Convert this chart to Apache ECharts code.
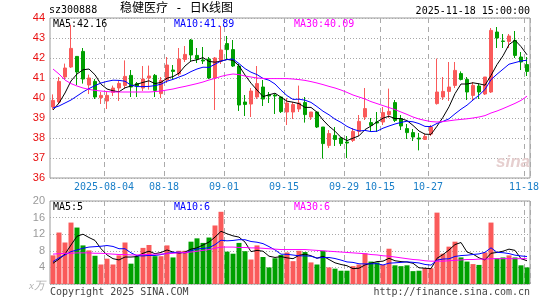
<!DOCTYPE html>
<html><head><meta charset="utf-8">
<script src="https://cdn.jsdelivr.net/npm/echarts@6/dist/echarts.min.js"></script>
<style>html,body{margin:0;padding:0;background:#fff}#c{width:545px;height:300px}</style>
</head><body><div id="c"></div>
<script>
const dates = ['2025-07-22','2025-07-23','2025-07-24','2025-07-25','2025-07-28','2025-07-29','2025-07-30','2025-07-31','2025-08-01',
'2025-08-04','2025-08-05','2025-08-06','2025-08-07','2025-08-08','2025-08-11','2025-08-12','2025-08-13','2025-08-14','2025-08-15',
'2025-08-18','2025-08-19','2025-08-20','2025-08-21','2025-08-22','2025-08-25','2025-08-26','2025-08-27','2025-08-28','2025-08-29',
'2025-09-01','2025-09-02','2025-09-03','2025-09-04','2025-09-05','2025-09-08','2025-09-09','2025-09-10','2025-09-11','2025-09-12',
'2025-09-15','2025-09-16','2025-09-17','2025-09-18','2025-09-19','2025-09-22','2025-09-23','2025-09-24','2025-09-25','2025-09-26',
'2025-09-29','2025-09-30','2025-10-09','2025-10-10','2025-10-13','2025-10-14','2025-10-15','2025-10-16','2025-10-17',
'2025-10-20','2025-10-21','2025-10-22','2025-10-23','2025-10-24','2025-10-27','2025-10-28','2025-10-29','2025-10-30','2025-10-31',
'2025-11-03','2025-11-04','2025-11-05','2025-11-06','2025-11-07','2025-11-10','2025-11-11','2025-11-12','2025-11-13','2025-11-14',
'2025-11-17','2025-11-18'];
const tickDates = ['2025-08-04','2025-08-18','2025-09-01','2025-09-15','2025-09-29','2025-10-15','2025-10-27','2025-11-18'];
const tickLabels = ['2025-08-04','08-18','09-01','09-15','09-29','10-15','10-27','11-18'];

const opens = [39.55,39.80,41.05,41.55,42.08,42.33,40.65,40.83,40.02,39.85, 40.28,40.50,40.63,41.13,40.72,40.50,41.00,41.13,40.22,40.90,
41.40,41.20,41.93,42.90,42.13,41.90,41.95,41.00,41.85,42.72, 42.42,41.60,39.80,39.70,40.05,40.55,40.15,40.15,40.05,39.30,
39.30,39.45,39.77,39.05,39.30,38.55,37.63,38.13,38.00,37.80, 37.88,38.33,39.05,38.77,38.80,38.80,39.17,39.77,38.97,38.47,
38.27,38.00,37.93,38.20,39.72,40.05,40.33,40.63,41.22,40.93, 40.13,40.60,40.20,40.30,43.30,42.85,42.83,42.88,42.05,41.67];
const closes = [39.88,40.83,41.50,42.48,41.30,40.95,41.00,40.05,40.13,40.13, 40.50,40.73,41.08,40.55,40.60,40.95,41.10,40.38,40.88,41.65,
41.33,41.95,42.18,42.15,41.95,41.85,41.00,42.00,42.40,42.42, 41.60,39.65,39.68,40.35,40.72,39.95,40.10,40.10,39.32,39.75,
39.67,39.75,39.17,39.30,38.55,37.72,38.22,37.93,37.72,37.75, 38.33,38.83,39.47,38.63,38.75,39.27,39.33,38.88,38.60,38.27,
38.05,37.95,38.08,38.55,40.30,40.33,40.55,41.38,40.93,40.30, 40.63,40.30,41.05,43.38,43.00,42.83,43.10,42.13,41.80,41.33];
const lows = [39.42,39.72,40.90,41.50,40.65,40.72,40.20,39.95,39.70,39.45, 40.10,39.85,40.45,40.05,40.05,40.35,40.42,40.05,40.00,40.75,
40.90,41.10,41.80,41.85,41.75,41.70,40.95,39.40,41.70,41.90, 41.55,39.35,39.10,39.05,39.95,39.60,39.75,39.20,39.25,38.65,
38.95,39.30,38.77,38.90,38.50,36.97,37.50,37.60,37.60,37.00, 37.80,38.10,38.90,38.30,38.30,38.65,39.00,38.80,38.40,37.95,
37.85,37.38,37.90,38.10,39.67,39.90,39.85,40.50,40.88,39.90, 39.88,39.95,40.15,40.25,42.50,42.50,42.50,42.00,41.40,41.10];
const highs = [40.18,41.05,41.72,43.65,42.10,42.50,41.17,40.95,40.30,40.30, 40.62,40.88,41.88,41.40,40.80,41.60,41.62,41.20,41.05,42.05,
41.65,42.50,42.60,42.95,42.50,42.55,42.05,42.05,43.60,43.10, 42.90,41.70,40.15,40.50,41.60,40.90,40.30,40.20,40.05,40.00,
39.80,40.62,40.05,39.30,39.30,38.55,38.40,38.55,38.05,38.10, 38.50,39.15,40.50,39.00,39.30,39.55,40.47,39.90,39.15,38.70,
38.45,38.25,38.22,38.65,41.97,41.05,41.80,41.80,41.33,41.05, 40.80,40.72,41.05,43.50,43.55,43.20,43.20,43.35,42.30,42.05];

const ma5 = [39.40,39.75,40.25,40.85,41.20,41.41,41.45,41.16,40.69,40.45, 40.36,40.31,40.51,40.60,40.69,40.78,40.86,40.72,40.78,40.99,
41.07,41.24,41.60,41.85,41.91,42.02,41.83,41.79,41.84,41.93, 41.88,41.61,41.15,40.74,40.40,40.07,40.16,40.24,40.04,39.84,
39.79,39.72,39.53,39.53,39.29,38.90,38.59,38.34,38.03,37.87, 37.99,38.11,38.42,38.60,38.80,38.99,39.09,38.97,38.97,38.87,
38.63,38.35,38.19,38.18,38.59,39.04,39.56,40.22,40.70,40.70, 40.76,40.71,40.64,41.13,41.67,42.11,42.67,42.89,42.57,42.16];
const ma10 = [39.50,39.60,39.75,39.90,40.10,40.30,40.47,40.62,40.75,40.83, 40.89,40.88,40.84,40.64,40.57,40.57,40.58,40.62,40.69,40.84,
40.93,41.05,41.16,41.32,41.45,41.54,41.53,41.69,41.85,41.92, 41.95,41.72,41.47,41.29,41.17,40.98,40.89,40.70,40.39,40.12,
39.93,39.94,39.89,39.78,39.57,39.34,39.16,38.94,38.78,38.58, 38.44,38.35,38.38,38.32,38.34,38.49,38.60,38.70,38.78,38.84,
38.81,38.72,38.58,38.57,38.73,38.83,38.96,39.21,39.44,39.64, 39.90,40.14,40.43,40.92,41.19,41.44,41.69,41.77,41.85,41.89];
const ma30 = [41.45,41.20,40.90,40.72,40.60,40.50,40.43,40.38,40.35,40.32, 40.30,40.30,40.30,40.30,40.30,40.30,40.30,40.32,40.35,40.40,
40.45,40.52,40.58,40.65,40.72,40.80,40.90,40.98,41.08,41.15, 41.20,41.17,41.10,41.05,41.00,40.98,40.97,40.97,40.97,40.97,
40.95,40.92,40.88,40.82,40.75,40.67,40.58,40.50,40.40,40.28, 40.15,40.05,39.95,39.82,39.72,39.62,39.52,39.42,39.30,39.18,
39.05,38.95,38.88,38.82,38.80,38.82,38.86,38.90,38.93,38.96, 39.00,39.05,39.12,39.25,39.35,39.47,39.60,39.73,39.88,40.09];

const volumes = [6.9,12.4,10.0,14.8,13.6,9.3,8.1,6.8,4.7,6.1, 4.7,6.9,10.0,4.9,6.7,8.7,9.4,6.7,6.7,9.3,
6.4,8.0,8.0,10.2,11.0,9.9,11.2,14.1,17.4,7.8, 7.3,9.9,7.9,5.9,9.3,6.5,4.0,6.2,7.0,7.6,
5.5,8.0,7.7,5.2,4.7,8.0,4.0,3.7,3.2,3.2, 4.3,4.7,7.4,5.4,5.2,4.6,8.5,4.5,4.3,4.5,
3.1,3.2,3.8,3.8,17.2,7.3,9.0,10.2,6.4,5.4, 4.8,4.6,7.6,14.8,6.2,6.4,6.9,6.4,4.5,4.0];
const vma5 = [5.0,6.0,7.2,9.4,11.5,12.0,11.2,10.5,8.5,7.0, 6.1,5.8,6.5,6.5,6.6,7.4,7.9,7.3,7.6,8.2,
7.7,7.4,7.7,8.4,8.7,9.4,10.1,11.3,12.7,12.1, 11.6,11.3,10.1,7.8,8.1,7.9,6.7,6.4,6.6,6.3,
6.1,6.9,7.2,6.8,6.2,6.7,5.9,5.1,4.7,4.4, 3.7,3.8,4.6,5.0,5.4,5.5,6.2,5.6,5.4,5.3,
5.0,3.9,3.8,3.7,6.2,7.1,8.2,9.5,10.0,7.7, 7.2,6.3,5.8,7.4,7.6,7.9,8.4,8.1,6.1,5.6];
const vma10 = [5.4,6.3,7.0,7.8,8.2,8.6,8.9,9.0,9.1,9.27, 9.05,8.5,8.5,7.51,6.82,6.76,6.89,6.88,7.08,7.4,
7.57,7.68,7.48,8.01,8.44,8.56,8.74,9.48,10.55,10.4, 10.49,10.68,10.67,10.24,10.07,9.73,9.01,8.22,7.18,7.16,
6.98,6.79,6.77,6.7,6.24,6.39,6.39,6.14,5.76,5.32, 5.2,4.87,4.84,4.86,4.91,4.57,5.02,5.1,5.21,5.34,
5.22,5.07,4.71,4.55,5.75,6.02,6.07,6.64,6.85,6.94, 7.11,7.25,7.63,8.73,7.63,7.54,7.33,6.95,6.76,6.62];
const vma30 = [7.2,7.3,7.4,7.4,7.5,7.5,7.5,7.4,7.4,7.3, 7.2,7.1,7.1,7.0,7.0,7.1,7.1,7.2,7.2,7.3,
7.4,7.5,7.6,7.7,7.9,8.1,8.3,8.6,8.9,8.9, 8.9,8.8,8.8,8.7,8.7,8.6,8.5,8.4,8.3,8.3,
8.3,8.3,8.3,8.2,8.1,8.0,7.9,7.8,7.7,7.6, 7.5,7.4,7.3,7.1,7.0,6.8,6.7,6.5,6.3,6.1,
5.9,5.8,5.6,5.5,5.5,5.5,5.6,5.7,5.8,5.9, 5.9,6.0,6.0,6.1,6.1,6.1,6.1,6.1,6.1,6.1];

const UP = '#fa5a5a', DOWN = '#00a000';
const MONO = '"DejaVu Sans Mono", monospace';
const candles = dates.map((d, i) => [opens[i], closes[i], lows[i], highs[i]]);
const volBars = volumes.map((v, i) => ({ value: v, itemStyle: { color: closes[i] >= opens[i] ? UP : DOWN } }));
const isTick = (idx, val) => tickDates.indexOf(val) >= 0;
const last = a => a[a.length - 1];

const chart = echarts.init(document.getElementById('c'), null, { renderer: 'canvas' });
const xBase = {
  type: 'category', data: dates, boundaryGap: true,
  axisLine: { show: false }, axisTick: { show: false },
  splitLine: { show: true, interval: isTick, lineStyle: { color: '#aaaaaa', type: [5, 4], width: 1 } }
};
chart.setOption({
  animation: false,
  backgroundColor: '#ffffff',
  grid: [
    { left: 50, top: 18, width: 480, height: 160, show: true, borderColor: '#9a9a9a', borderWidth: 1, backgroundColor: 'transparent' },
    { left: 50, top: 201, width: 480, height: 83, show: true, borderColor: '#9a9a9a', borderWidth: 1, backgroundColor: 'transparent' }
  ],
  xAxis: [
    Object.assign({}, xBase, { gridIndex: 0,
      axisLabel: { show: true, interval: isTick, margin: 4, color: '#1a7fc8', fontFamily: MONO, fontSize: 10,
        padding: [0, 6, 0, 0],
        formatter: (val) => tickLabels[tickDates.indexOf(val)] } }),
    Object.assign({}, xBase, { gridIndex: 1, axisLabel: { show: false } })
  ],
  yAxis: [
    { type: 'value', gridIndex: 0, min: 36, max: 44, interval: 1, scale: false,
      axisLine: { show: false }, axisTick: { show: false },
      axisLabel: { color: '#e81010', fontFamily: '"Liberation Sans", Arial', fontSize: 11, margin: 5 },
      splitLine: { show: true, lineStyle: { color: '#a8a8a8', type: [1, 2], width: 1 } } },
    { type: 'value', gridIndex: 1, min: 0, max: 20, interval: 4,
      axisLine: { show: false }, axisTick: { show: false },
      axisLabel: { color: '#999999', fontFamily: '"Liberation Sans", Arial', fontSize: 11, margin: 5,
        formatter: v => v === 0 ? '{u|x万}' : String(v),
        rich: { u: { fontStyle: 'italic', color: '#b0b0b0', fontSize: 11, fontFamily: '"Liberation Serif", serif', padding: [4, 0, 0, 0] } } },
      splitLine: { show: true, lineStyle: { color: '#a8a8a8', type: [1, 2], width: 1 } } }
  ],
  series: [
    { type: 'candlestick', xAxisIndex: 0, yAxisIndex: 0, data: candles, barWidth: 4,
      itemStyle: { color: UP, color0: DOWN, borderColor: UP, borderColor0: DOWN, borderWidth: 1 } },
    { type: 'line', xAxisIndex: 0, yAxisIndex: 0, data: ma5, symbol: 'none', silent: true, lineStyle: { color: '#000000', width: 1 }, z: 5 },
    { type: 'line', xAxisIndex: 0, yAxisIndex: 0, data: ma10, symbol: 'none', silent: true, lineStyle: { color: '#0000ff', width: 1 }, z: 5 },
    { type: 'line', xAxisIndex: 0, yAxisIndex: 0, data: ma30, symbol: 'none', silent: true, lineStyle: { color: '#ff00ff', width: 1 }, z: 5 },
    { type: 'bar', xAxisIndex: 1, yAxisIndex: 1, data: volBars, barWidth: 5 },
    { type: 'line', xAxisIndex: 1, yAxisIndex: 1, data: vma5, symbol: 'none', silent: true, lineStyle: { color: '#000000', width: 1 }, z: 5 },
    { type: 'line', xAxisIndex: 1, yAxisIndex: 1, data: vma10, symbol: 'none', silent: true, lineStyle: { color: '#0000ff', width: 1 }, z: 5 },
    { type: 'line', xAxisIndex: 1, yAxisIndex: 1, data: vma30, symbol: 'none', silent: true, lineStyle: { color: '#ff00ff', width: 1 }, z: 5 }
  ],
  graphic: [
    { type: 'text', left: 49, top: 5, style: { text: 'sz300888', fill: '#000', font: '10px ' + MONO } },
    { type: 'text', left: 120, top: 3, style: { text: '稳健医疗 - 日K线图', fill: '#000', font: '12px "DejaVu Sans Mono", "Noto Sans CJK SC"' } },
    { type: 'text', right: 15, top: 6, style: { text: '2025-11-18 15:00:00', fill: '#000', font: '10px ' + MONO } },
    { type: 'text', left: 53, top: 19, z: 10, style: { text: 'MA5:' + last(ma5).toFixed(2), fill: '#000000', font: '10px ' + MONO } },
    { type: 'text', left: 174, top: 19, z: 10, style: { text: 'MA10:' + last(ma10).toFixed(2), fill: '#0000ff', font: '10px ' + MONO } },
    { type: 'text', left: 294, top: 19, z: 10, style: { text: 'MA30:' + last(ma30).toFixed(2), fill: '#ff00ff', font: '10px ' + MONO } },
    { type: 'text', left: 53, top: 202, z: 10, style: { text: 'MA5:' + Math.floor(last(vma5)), fill: '#000000', font: '10px ' + MONO } },
    { type: 'text', left: 174, top: 202, z: 10, style: { text: 'MA10:' + Math.floor(last(vma10)), fill: '#0000ff', font: '10px ' + MONO } },
    { type: 'text', left: 294, top: 202, z: 10, style: { text: 'MA30:' + Math.floor(last(vma30)), fill: '#ff00ff', font: '10px ' + MONO } },
    { type: 'text', left: 496, top: 154, z: 1, style: { text: 'sina', fill: '#e6cfcf', font: 'italic bold 17px "Liberation Sans", Arial' } },
    { type: 'text', left: 50, top: 287, style: { text: 'Copyright 2025 SINA.COM', fill: '#444', font: '10px ' + MONO } },
    { type: 'text', right: 15, top: 287, style: { text: 'http://finance.sina.com.cn', fill: '#444', font: '10px ' + MONO } }
  ]
});
</script>
</body></html>
